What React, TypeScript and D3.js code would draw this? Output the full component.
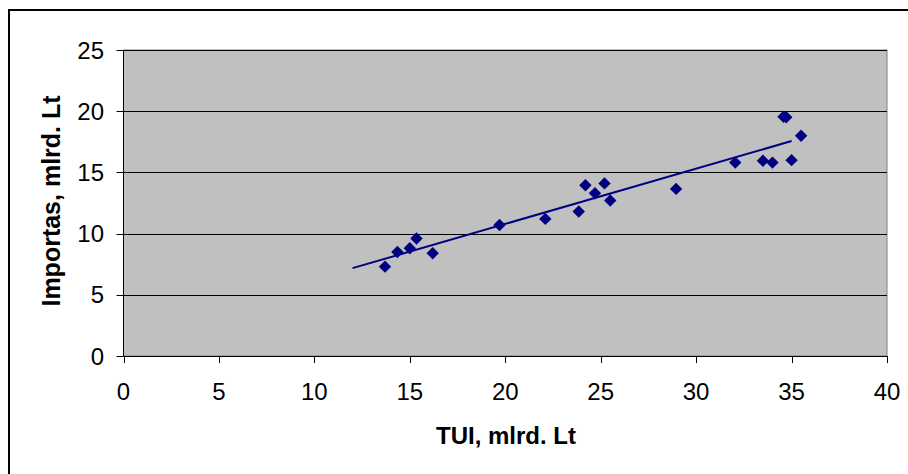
import React from "react";
import * as d3 from "d3";

const tuiValues = [13.7, 14.35, 15.0, 15.35, 16.2, 19.7, 22.1, 23.85, 24.2, 24.7, 25.2, 25.5, 28.95, 32.05, 33.5, 34.0, 34.58, 34.72, 35.0, 35.5];
const importValues = [7.3, 8.5, 8.8, 9.6, 8.4, 10.7, 11.2, 11.8, 13.95, 13.3, 14.1, 12.7, 13.65, 15.8, 15.95, 15.8, 19.55, 19.5, 16.0, 18.0];
const xTicks = [0, 5, 10, 15, 20, 25, 30, 35, 40];
const yTicks = [0, 5, 10, 15, 20, 25];
const trendRange = [12, 35];
const xTitle = "TUI, mlrd. Lt";
const yTitle = "Importas, mlrd. Lt";

export default function App() {
  const W = 908, H = 474;
  const left = 123.5, right = 887, top = 50, bottom = 356;
  const x = d3.scaleLinear().domain([0, 40]).range([left, right]);
  const y = d3.scaleLinear().domain([0, 25]).range([bottom, top]);

  const mx = d3.mean(tuiValues)!;
  const my = d3.mean(importValues)!;
  let sxy = 0, sxx = 0;
  tuiValues.forEach((v, i) => { sxy += (v - mx) * (importValues[i] - my); sxx += (v - mx) * (v - mx); });
  const slope = sxy / sxx;
  const intercept = my - slope * mx;
  const line = d3.line<number>().x(d => x(d)).y(d => y(intercept + slope * d));

  const font = "'Liberation Sans', Arial, sans-serif";
  const ds = 6.2;

  return (
    <svg width={W} height={H} style={{ position: "absolute", left: 0, top: 0, background: "#fff" }}>
      <rect x={9} y={10} width={W + 20} height={H + 20} fill="#fff" stroke="#000" strokeWidth={2} />
      <rect x={left} y={top} width={right - left} height={bottom - top} fill="#C0C0C0" stroke="#808080" strokeWidth={1} />
      {yTicks.filter(t => t > 0).map(t => (
        <line key={"g" + t} x1={left} x2={right} y1={Math.round(y(t)) + 0.5} y2={Math.round(y(t)) + 0.5} stroke="#000" strokeWidth={1} />
      ))}
      <line x1={left} x2={left} y1={top} y2={bottom} stroke="#000" strokeWidth={1} />
      <line x1={left} x2={right} y1={bottom + 0.5} y2={bottom + 0.5} stroke="#000" strokeWidth={1} />
      {yTicks.map(t => (
        <g key={"y" + t}>
          <line x1={left - 7} x2={left} y1={Math.round(y(t)) + 0.5} y2={Math.round(y(t)) + 0.5} stroke="#000" />
          <text x={104} y={y(t) + 8.5} textAnchor="end" fontFamily={font} fontSize={24} fill="#000">{t}</text>
        </g>
      ))}
      {xTicks.map(t => (
        <g key={"x" + t}>
          <line x1={Math.round(x(t)) + 0.5} x2={Math.round(x(t)) + 0.5} y1={bottom} y2={bottom + 7} stroke="#000" />
          <text x={x(t)} y={400} textAnchor="middle" fontFamily={font} fontSize={24} fill="#000">{t}</text>
        </g>
      ))}
      <path d={line(trendRange) || ""} stroke="#000080" strokeWidth={2} fill="none" />
      {tuiValues.map((v, i) => {
        const cx = x(v), cy = y(importValues[i]);
        return (
          <path key={"p" + i} d={`M${cx},${cy - ds}L${cx + ds},${cy}L${cx},${cy + ds}L${cx - ds},${cy}Z`} fill="#000080" />
        );
      })}
      <text x={506} y={444} textAnchor="middle" fontFamily={font} fontSize={24} fontWeight="bold" fill="#000">{xTitle}</text>
      <text transform={`translate(60,201) rotate(-90)`} textAnchor="middle" fontFamily={font} fontSize={25} fontWeight="bold" fill="#000">{yTitle}</text>
    </svg>
  );
}
